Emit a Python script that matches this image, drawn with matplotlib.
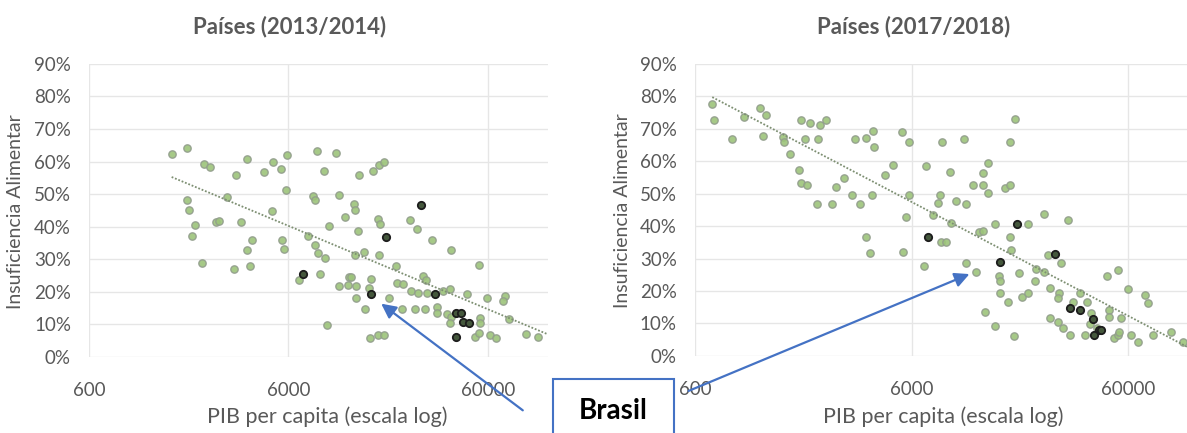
import numpy as np
import matplotlib.pyplot as plt
from matplotlib.patches import Rectangle, FancyArrowPatch

# PIB per capita e insuficiencia alimentar (%)
gdp_1314 = [1558, 1866, 2263, 2426, 1866, 1910, 2040, 1977, 2203, 2614, 2700, 2939, 3293, 3704,
            3467, 3188, 3716, 3951, 3870, 4523, 5000, 5485, 5877, 5830, 4942, 5547, 5697, 8366,
            10381, 9038, 8010, 8195, 10709, 11585, 7561, 8148, 8464, 9145, 9613, 6797, 8682,
            10771, 12136, 11966, 13076, 9324, 13538, 15966, 17109, 18125, 12852, 13003, 16915,
            17353, 24464, 13433, 26594, 31446, 39150, 12925, 14394, 17109, 54084, 20868, 12307,
            15495, 15247, 13123, 19206, 14510, 20915, 22573, 28433, 29331, 24664, 26650, 29771,
            35819, 38699, 47469, 59794, 73601, 71597, 22363, 25837, 28997, 33203, 33203, 37256,
            39460, 38699, 54716, 55159, 76500, 15374, 16800, 18066, 51635, 54271, 61380, 66310,
            93780, 107740]
insuf_1314 = [62.2, 64.3, 59.4, 58.2, 48.3, 45.1, 40.4, 37.3, 28.9, 41.4, 41.8, 49.2, 55.9, 60.9,
              41.3, 26.9, 33.0, 35.9, 27.9, 56.9, 59.8, 57.7, 61.9, 51.2, 44.8, 35.8, 33.3, 63.3,
              62.7, 57.1, 49.4, 48.2, 49.8, 42.9, 37.3, 34.4, 31.9, 30.5, 40.3, 23.6, 25.5,
              21.9, 24.5, 22.2, 21.9, 9.7, 55.8, 57.2, 58.9, 59.8, 47.1, 45.1, 42.3,
              40.8, 42.2, 38.7, 39.4, 35.8, 32.9, 31.3, 32.3, 31.3, 28.4, 27.9, 24.6,
              23.8, 21.1, 18.0, 18.2, 14.6, 22.8, 22.4, 24.8, 23.6, 20.2, 19.8, 19.8,
              20.2, 20.8, 19.3, 18.0, 18.8, 17.2, 14.6, 14.6, 14.7, 15.4, 13.4, 13.1,
              12.4, 10.5, 11.9, 10.5, 11.7, 5.7, 6.7, 6.7, 6.1, 7.3, 6.9, 5.7,
              7.1, 6.2]
# paises destacados (pontos escuros), Brasil incluido
gdp_1314_dest = [7070, 27850, 18591, 15495, 32551, 41803, 43925, 45106, 48350, 41803]
insuf_1314_dest = [25.5, 46.8, 36.9, 19.2, 19.3, 13.6, 13.6, 10.8, 10.5, 6.0]

gdp_1718 = [721, 734, 886, 1009, 1196, 1270, 1238, 1521, 1548, 1644, 1814, 1847, 1963, 1853,
            2033, 1928, 2220, 2260, 2427, 2206, 2586, 2699, 2925, 3184, 3455, 3277, 3710, 3980,
            4009, 3954, 3683, 3871, 4505, 4921, 5414, 5831, 7013, 8310, 10415, 18035, 16975,
            8980, 13481, 12787, 12787, 13481, 11496, 16098, 16975, 5831, 8076, 7932, 9641,
            10645, 5672, 7524, 9144, 14477, 20617, 24419, 31518, 8165, 8672, 12252, 12787,
            16975, 17279, 5472, 6816, 10721, 11923, 18874, 15149, 15264, 25476, 29376, 22535,
            24614, 22290, 26228, 28638, 28331, 35945, 38548, 33469, 47660, 53561, 59563, 71840,
            73917, 15380, 16793, 19338, 20766, 13064, 14477, 17898, 26143, 28548, 29874, 32324,
            38022, 39965, 42863, 40391, 49038, 49038, 55535, 51706, 53561, 54532, 61734, 66233,
            77651, 94381, 106730]
insuf_1718 = [77.5, 72.6, 66.8, 73.6, 76.2, 74.2, 67.7, 67.3, 65.9, 62.1, 57.4, 53.1, 52.6, 72.6,
              71.6, 66.8, 66.8, 71.1, 72.6, 46.8, 46.8, 51.9, 54.7, 49.5, 46.8, 66.8, 67.2, 69.2,
              64.2, 49.6, 36.7, 31.6, 55.7, 58.7, 68.8, 65.9, 58.6, 65.8, 66.8, 73.1, 65.8,
              56.7, 59.3, 56.2, 52.6, 50.1, 52.6, 51.6, 52.6, 49.5, 49.5, 47.2, 47.7,
              46.7, 42.9, 43.4, 40.8, 40.5, 40.5, 43.6, 41.8, 35.2, 35.2, 38.2, 38.5,
              36.7, 32.6, 31.9, 27.8, 28.5, 25.9, 25.6, 24.6, 23.1, 31.1, 28.5, 26.7,
              25.9, 23.1, 21.0, 19.5, 17.8, 19.3, 16.7, 16.7, 24.6, 26.5, 20.5, 18.8,
              16.4, 19.3, 16.7, 18.1, 19.5, 13.6, 9.3, 6.2, 11.6, 10.6, 8.5, 6.5,
              6.5, 9.8, 8.5, 13.1, 14.2, 12.1, 11.6, 5.4, 6.5, 7.5, 6.5, 4.4,
              6.5, 7.5, 4.4]
gdp_1718_dest = [18349, 7136, 15380, 27652, 32324, 36059, 41089, 44106, 44913, 41826]
insuf_1718_dest = [40.6, 36.7, 29.0, 31.3, 14.7, 14.2, 11.3, 8.0, 8.0, 6.5]

titles = ['Países (2013/2014)', 'Países (2017/2018)']
x_ticks = [600, 6000, 60000]
y_ticks = [0, 10, 20, 30, 40, 50, 60, 70, 80, 90]

plt.rcParams['font.family'] = ['Lato', 'DejaVu Sans']
grey = '#595959'

fig = plt.figure(figsize=(11.87, 4.33), dpi=100)
ax1 = fig.add_axes([0.075, 0.1755, 0.3865, 0.677])
ax2 = fig.add_axes([0.5855, 0.178, 0.42, 0.675])

sets = [(ax1, gdp_1314, insuf_1314, gdp_1314_dest, insuf_1314_dest),
        (ax2, gdp_1718, insuf_1718, gdp_1718_dest, insuf_1718_dest)]

for ax, gx, gy, dx, dy in sets:
    ax.set_xscale('log')
    ax.set_xlim(600, 120000)
    ax.set_ylim(0, 90)
    ax.set_xticks(x_ticks)
    ax.set_xticklabels([str(v) for v in x_ticks])
    ax.minorticks_off()
    ax.set_yticks(y_ticks)
    ax.set_yticklabels(['%d%%' % v for v in y_ticks])
    ax.grid(True, color='#e6e6e6', linewidth=1.0)
    ax.set_axisbelow(True)
    for s in ax.spines.values():
        s.set_visible(False)
    ax.tick_params(length=0, labelsize=13.5, labelcolor=grey)
    ax.tick_params(axis='x', pad=18)
    ax.tick_params(axis='y', pad=13)

    ax.scatter(gx, gy, s=28, facecolor='#9cc47a', edgecolor='#929d8c', linewidth=1.0,
               alpha=0.9, zorder=3)
    ax.scatter(dx, dy, s=28, facecolor='#44573c', edgecolor='#1c1c1c', linewidth=1.3,
               zorder=4)

    # linha de tendencia logaritmica
    allx = np.array(gx + dx, dtype=float)
    ally = np.array(gy + dy, dtype=float)
    b, a = np.polyfit(np.log10(allx), ally, 1)
    xs = np.logspace(np.log10(allx.min()), np.log10(120000), 50)
    ax.plot(xs, a + b * np.log10(xs), linestyle=(0, (1, 1)), color='#7d8f72',
            linewidth=1.3, zorder=5)

fig.text(290 / 1187, 1 - 27 / 433, titles[0], ha='center', va='center',
         fontsize=16, fontweight='bold', color=grey)
fig.text(914 / 1187, 1 - 27 / 433, titles[1], ha='center', va='center',
         fontsize=16, fontweight='bold', color=grey)
fig.text(327 / 1187, 1 - 417 / 433, 'PIB per capita (escala log)', ha='center', va='center',
         fontsize=15.5, color=grey)
fig.text(943 / 1187, 1 - 417 / 433, 'PIB per capita (escala log)', ha='center', va='center',
         fontsize=15.5, color=grey)
fig.text(16 / 1187, 1 - 212 / 433, 'Insuficiencia Alimentar', rotation=90, ha='center',
         va='center', fontsize=14, color=grey)
fig.text(622 / 1187, 1 - 211 / 433, 'Insuficiencia Alimentar', rotation=90, ha='center',
         va='center', fontsize=14, color=grey)

# caixa "Brasil" com setas
blue = '#4472c4'
box = Rectangle((553 / 1187, -0.05), 121 / 1187, 0.05 + 1 - 379 / 433,
                transform=fig.transFigure, facecolor='white', edgecolor=blue,
                linewidth=1.5, zorder=10)
fig.patches.append(box)
fig.text(613 / 1187, 1 - 411 / 433, 'Brasil', ha='center', va='center', fontsize=20,
         fontweight='bold', color='black', zorder=11)

for tail, head in [((525, 412), (379, 302)), ((686, 392), (972, 273))]:
    arr = FancyArrowPatch((tail[0] / 1187, 1 - tail[1] / 433),
                          (head[0] / 1187, 1 - head[1] / 433),
                          transform=fig.transFigure, arrowstyle='-|>', mutation_scale=22,
                          color=blue, linewidth=1.6, zorder=12)
    fig.patches.append(arr)

fig.savefig('out.png', dpi=100)
